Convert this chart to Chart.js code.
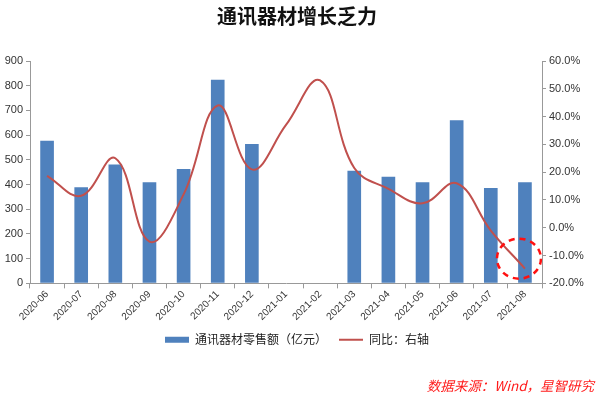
<!DOCTYPE html>
<html>
<head>
<meta charset="utf-8">
<script src="https://cdn.jsdelivr.net/npm/chart.js@4"></script>
<style>
  html, body { margin: 0; padding: 0; background: #fff; }
  #wrap { width: 600px; height: 394px; }
</style>
</head>
<body>
<div id="wrap"><canvas id="commChart"></canvas></div>
<script>
// data
const months = ['2020-06', '2020-07', '2020-08', '2020-09', '2020-10', '2020-11', '2020-12',
  '2021-01', '2021-02', '2021-03', '2021-04', '2021-05', '2021-06', '2021-07', '2021-08'];
const retailSales = [577, 389, 481, 409, 463, 824, 564, null, null, 456, 432, 409, 660, 386, 409];
const yoyGrowth = [18.7, 11.5, 25.0, -5.0, 12.0, 44.0, 21.0, 37.0, 53.0, 21.5, 14.0, 8.8, 16.0, -1.0, -14.7];
const leftTicks = [0, 900, 100];
const rightTicks = [-20, 60, 10];

const fontLatin = "'Liberation Sans', 'Noto Sans CJK SC', sans-serif";
const fontCJK = "'Noto Sans CJK SC', sans-serif";

// dashed circle around the last point of the line
const circleMark = {
  id: 'circleMark',
  afterDatasetsDraw(chart) {
    const meta = chart.getDatasetMeta(1);
    const pt = meta.data[meta.data.length - 1];
    if (!pt) return;
    const c = chart.ctx;
    c.save();
    c.strokeStyle = '#ff1010';
    c.lineWidth = 2.5;
    c.setLineDash([6, 5]);
    c.beginPath();
    c.ellipse(pt.x - 6, pt.y - 10, 22, 20, 0, 0, Math.PI * 2);
    c.stroke();
    c.restore();
  }
};

const ctx = document.getElementById('commChart').getContext('2d');
new Chart(ctx, {
  data: {
    labels: months,
    datasets: [{
      type: 'bar',
      label: '通讯器材零售额（亿元）',
      data: retailSales,
      backgroundColor: '#4f81bd',
      borderWidth: 0,
      barPercentage: 0.4,
      categoryPercentage: 1,
      pointStyle: 'rect',
      yAxisID: 'y',
      order: 2
    }, {
      type: 'line',
      label: '同比：右轴',
      data: yoyGrowth,
      borderColor: '#c0504d',
      borderWidth: 2,
      pointRadius: 0,
      pointStyle: 'line',
      tension: 0.4,
      fill: false,
      yAxisID: 'y1',
      order: 1
    }]
  },
  options: {
    responsive: true,
    maintainAspectRatio: false,
    animation: false,
    layout: { padding: { top: 0, bottom: 0, left: 0, right: 6 } },
    plugins: {
      title: {
        display: true,
        text: '通讯器材增长乏力',
        color: '#111',
        font: { family: fontCJK, size: 20, weight: 'bold' },
        padding: { top: 4, bottom: 33 }
      },
      subtitle: {
        display: true,
        position: 'bottom',
        align: 'end',
        text: '数据来源：Wind，星智研究',
        color: '#ff1a1a',
        font: { family: fontCJK, size: 13.5, style: 'italic' },
        padding: { top: 22, bottom: 0 }
      },
      legend: {
        position: 'bottom',
        labels: {
          usePointStyle: true,
          pointStyleWidth: 24,
          boxHeight: 6,
          padding: 12,
          color: '#222',
          font: { family: fontCJK, size: 12 },
          sort: (a, b) => a.datasetIndex - b.datasetIndex
        }
      },
      tooltip: { enabled: false }
    },
    scales: {
      x: {
        offset: true,
        grid: { display: true, drawOnChartArea: false, offset: true, tickLength: 5, color: '#999' },
        border: { color: '#999' },
        ticks: {
          maxRotation: 45,
          minRotation: 45,
          color: '#333',
          font: { family: fontLatin, size: 10 },
          padding: 0
        },
        afterFit(scale) { scale.height = scale.height - 1; }
      },
      y: {
        position: 'left',
        min: leftTicks[0],
        max: leftTicks[1],
        ticks: { stepSize: leftTicks[2], color: '#333', font: { family: fontLatin, size: 11 }, padding: 3 },
        grid: { drawOnChartArea: false, tickLength: 4, color: '#999' },
        border: { color: '#999' },
        afterFit(scale) { scale.width = 30; }
      },
      y1: {
        position: 'right',
        min: rightTicks[0],
        max: rightTicks[1],
        ticks: {
          stepSize: rightTicks[2],
          color: '#333',
          font: { family: fontLatin, size: 11 },
          padding: 3,
          callback: function(value) { return value.toFixed(1) + '%'; }
        },
        grid: { drawOnChartArea: false, tickLength: 4, color: '#999' },
        border: { color: '#999' },
        afterFit(scale) { scale.width = 52; }
      }
    }
  },
  plugins: [circleMark]
});
</script>
</body>
</html>
